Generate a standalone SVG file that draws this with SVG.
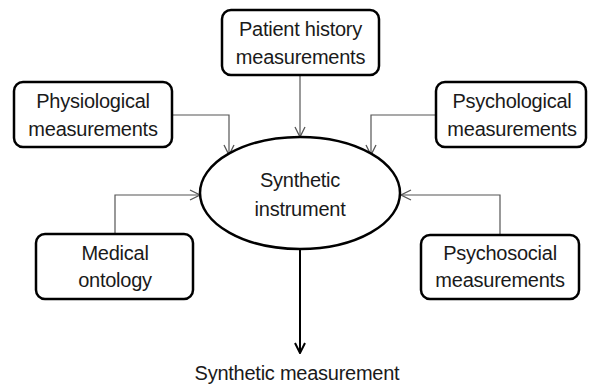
<svg xmlns="http://www.w3.org/2000/svg" width="589" height="386" viewBox="0 0 589 386">
  <style>
    .box { fill: #ffffff; stroke: #000000; stroke-width: 2.5; }
    .lbl { font-family: "Liberation Sans", Arial, sans-serif; font-size: 20px; letter-spacing: -0.25px; fill: #1a1a1a; text-anchor: middle; }
    .link { fill: none; stroke: #555555; stroke-width: 1.2; }
    .out { fill: none; stroke: #000000; stroke-width: 2; }
  </style>
  <defs>
    <marker id="openArrow" viewBox="0 0 12 12" refX="11" refY="6" markerWidth="12" markerHeight="12" markerUnits="userSpaceOnUse" orient="auto">
      <path d="M1,1 L11,6 L1,11" fill="none" stroke="#555555" stroke-width="1.3"/>
    </marker>
    <marker id="outArrow" viewBox="0 0 12 12" refX="11" refY="6" markerWidth="12" markerHeight="12" markerUnits="userSpaceOnUse" orient="auto">
      <path d="M1,1 L11,6 L1,11" fill="none" stroke="#000000" stroke-width="2"/>
    </marker>
  </defs>

  <g id="connectors">
    <path class="link" d="M300,75 V137" marker-end="url(#openArrow)"/>
    <path class="link" d="M172,115 H229 V155" marker-end="url(#openArrow)"/>
    <path class="link" d="M436,115 H371 V155" marker-end="url(#openArrow)"/>
    <path class="link" d="M115,234 V195 H200" marker-end="url(#openArrow)"/>
    <path class="link" d="M500,235 V195 H401" marker-end="url(#openArrow)"/>
    <path class="out" d="M300,249 V353" marker-end="url(#outArrow)"/>
  </g>

  <g id="patient-history">
    <rect class="box" x="222" y="10" width="157" height="65" rx="9"/>
    <text class="lbl" x="300.5" y="36">Patient history</text>
    <text class="lbl" x="300.5" y="64">measurements</text>
  </g>

  <g id="physiological">
    <rect class="box" x="14" y="82" width="158" height="65" rx="9"/>
    <text class="lbl" x="93" y="108">Physiological</text>
    <text class="lbl" x="93" y="136">measurements</text>
  </g>

  <g id="psychological">
    <rect class="box" x="436" y="82" width="150" height="65" rx="9"/>
    <text class="lbl" x="512" y="108">Psychological</text>
    <text class="lbl" x="512" y="136">measurements</text>
  </g>

  <g id="synthetic-instrument">
    <ellipse class="box" cx="300" cy="193" rx="100" ry="56"/>
    <text class="lbl" x="300" y="187">Synthetic</text>
    <text class="lbl" x="300" y="216">instrument</text>
  </g>

  <g id="medical-ontology">
    <rect class="box" x="36" y="234" width="157" height="65" rx="9"/>
    <text class="lbl" x="115" y="260">Medical</text>
    <text class="lbl" x="115" y="287">ontology</text>
  </g>

  <g id="psychosocial">
    <rect class="box" x="421" y="235" width="158" height="64" rx="9"/>
    <text class="lbl" x="500" y="260">Psychosocial</text>
    <text class="lbl" x="500" y="287">measurements</text>
  </g>

  <g id="synthetic-measurement">
    <text class="lbl" x="297" y="380">Synthetic measurement</text>
  </g>
</svg>
